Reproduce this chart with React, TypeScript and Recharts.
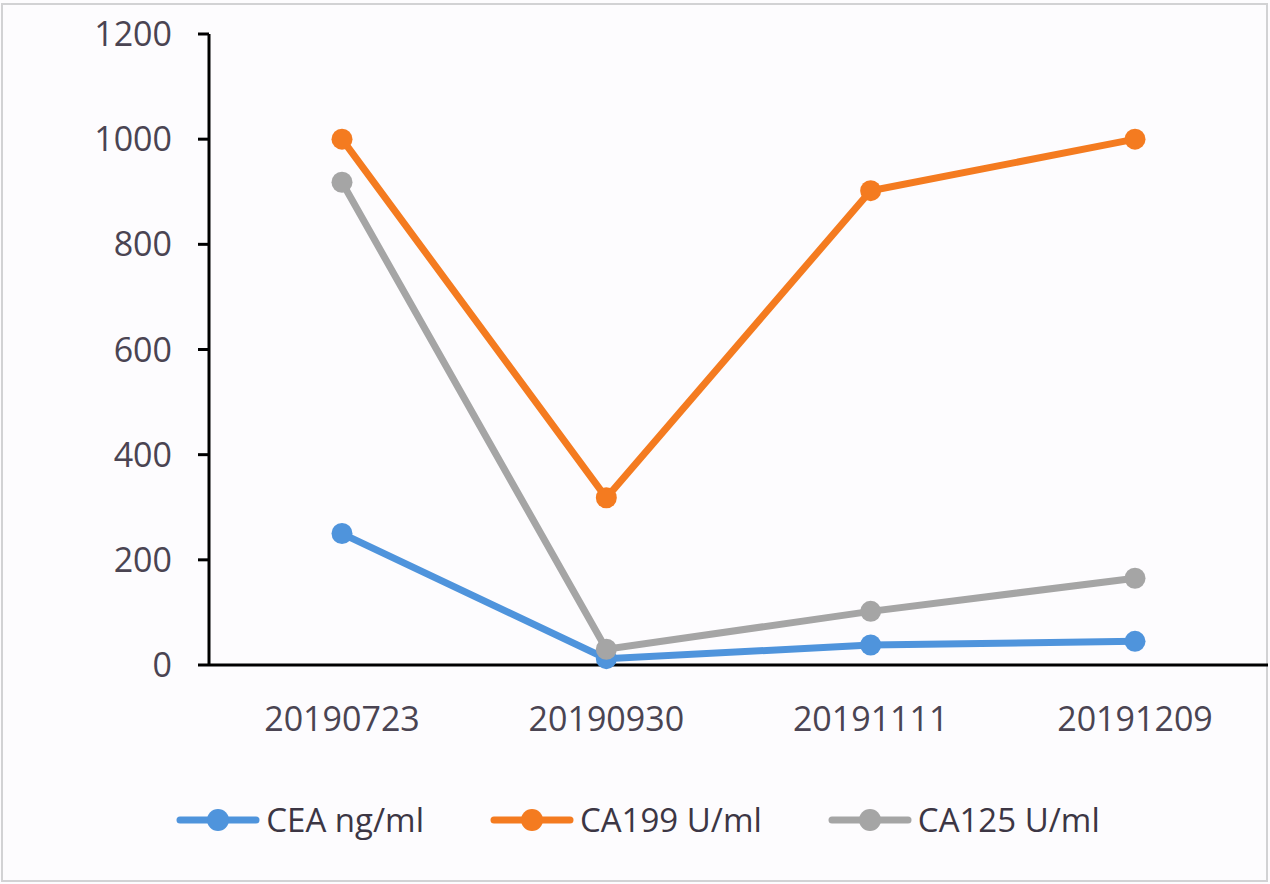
import React from 'react';
import { LineChart, Line, XAxis, YAxis, Legend } from 'recharts';

const dates = ['20190723', '20190930', '20191111', '20191209'];
const cea = [250, 12, 38, 45];
const ca199 = [1000, 318, 902, 1000];
const ca125 = [918, 30, 102, 165];
const yTicks = [0, 200, 400, 600, 800, 1000, 1200];

const seriesNames = ['CEA ng/ml', 'CA199 U/ml', 'CA125 U/ml'];
const seriesColors = ['#4F94DC', '#F47B20', '#A5A5A5'];

const data = dates.map((d, i) => ({
  date: d,
  cea: cea[i],
  ca199: ca199[i],
  ca125: ca125[i],
}));

const FONT = '"Open Sans", sans-serif';
const TEXT = '#4a4452';

const LegendContent = (props: any) => {
  const payload = [...(props.payload || [])].sort(
    (a: any, b: any) => seriesNames.indexOf(a.value) - seriesNames.indexOf(b.value)
  );
  return (
    <div style={{ display: 'flex', justifyContent: 'center', alignItems: 'center', height: 109, gap: 66, fontFamily: FONT, fontSize: 33, color: '#3c3644', paddingLeft: 8 }}>
      {payload.map((p: any) => (
        <div key={p.value} style={{ display: 'flex', alignItems: 'center' }}>
          <svg width={84} height={26} style={{ marginRight: 6 }}>
            <line x1={4} y1={13} x2={80} y2={13} stroke={p.color} strokeWidth={7} strokeLinecap="round" />
            <circle cx={42} cy={13} r={11} fill={p.color} />
          </svg>
          <span>{p.value}</span>
        </div>
      ))}
    </div>
  );
};

export default function App() {
  return (
    <div style={{ position: 'absolute', left: 0, top: 0, width: 1270, height: 884, background: '#fdfcfe' }}>
      <div style={{ position: 'absolute', left: 1, top: 3, width: 1263, height: 875, border: '2px solid #d2d2d4' }} />
      <div style={{ position: 'absolute', left: 0, top: 0 }}>
        <LineChart width={1270} height={884} data={data} margin={{ top: 34, right: 2, left: 0, bottom: 10 }}>
          <XAxis
            dataKey="date"
            axisLine={{ stroke: '#000', strokeWidth: 3 }}
            tickLine={false}
            tickSize={0}
            tickMargin={42}
            height={100}
            padding={{ left: 133, right: 133 }}
            tick={{ fill: TEXT, fontSize: 34, fontFamily: FONT }}
          />
          <YAxis
            domain={[0, 1200]}
            ticks={yTicks}
            width={209}
            axisLine={{ stroke: '#000', strokeWidth: 3 }}
            tickLine={{ stroke: '#000', strokeWidth: 3 }}
            tickSize={11}
            tickMargin={26}
            tick={{ fill: TEXT, fontSize: 34, fontFamily: FONT }}
          />
          <Legend verticalAlign="bottom" height={109} content={<LegendContent />} />
          <Line name={seriesNames[0]} dataKey="cea" stroke={seriesColors[0]} strokeWidth={7} dot={{ r: 10.5, fill: seriesColors[0], stroke: 'none' }} activeDot={false} isAnimationActive={false} />
          <Line name={seriesNames[1]} dataKey="ca199" stroke={seriesColors[1]} strokeWidth={7} dot={{ r: 10.5, fill: seriesColors[1], stroke: 'none' }} activeDot={false} isAnimationActive={false} />
          <Line name={seriesNames[2]} dataKey="ca125" stroke={seriesColors[2]} strokeWidth={7} dot={{ r: 10.5, fill: seriesColors[2], stroke: 'none' }} activeDot={false} isAnimationActive={false} />
        </LineChart>
      </div>
    </div>
  );
}
